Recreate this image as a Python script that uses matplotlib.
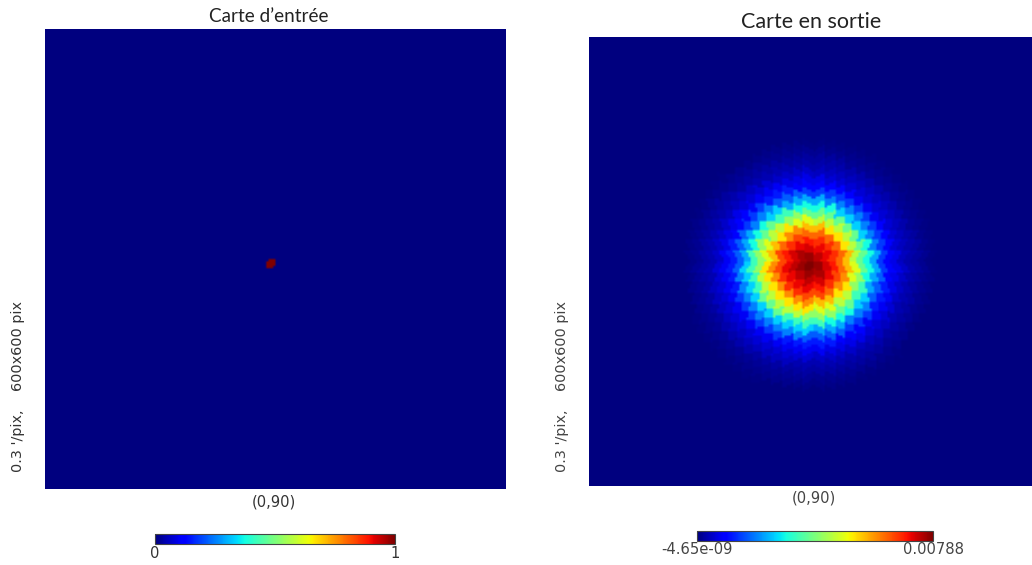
import numpy as np
import matplotlib
matplotlib.use("Agg")
import matplotlib.pyplot as plt
from matplotlib.cm import ScalarMappable
from matplotlib.colors import Normalize

W = 1032
H = 565

beam_profile = [1.0, 0.995, 0.985, 0.975, 0.96, 0.945, 0.925, 0.905, 0.885, 0.86, 0.835,
                0.80, 0.76, 0.71, 0.665, 0.62, 0.575, 0.525, 0.475, 0.425, 0.375, 0.33,
                0.29, 0.25, 0.215, 0.18, 0.15, 0.125, 0.105, 0.09, 0.075, 0.065, 0.055,
                0.045, 0.04, 0.035, 0.028, 0.023, 0.018, 0.013, 0.008, 0.005, 0.003, 0.001, 0.0]
input_min, input_max = 0, 1
output_min, output_max = -4.65e-09, 0.00788
titles = ["Carte d\u2019entr\u00e9e", "Carte en sortie"]
side_label = "0.3 '/pix,    600x600 pix"
bottom_label = "(0,90)"


def box(x0, y0, x1, y1):
    return [x0 / W, 1 - y1 / H, (x1 - x0) / W, (y1 - y0) / H]


# healpix polar cap: which cell each sample of the 600x600 map falls in
ring = 9.19
grid = np.arange(-299, 300, 3.0)
gx, gy = np.meshgrid(grid, grid)
radius = np.hypot(gx, gy) / ring
angle = np.mod(np.arctan2(gy, gx), 2 * np.pi)
quad = np.floor(angle / (np.pi / 2))
frac = angle / (np.pi / 2) - quad
cell_a = np.floor(radius * frac)
cell_b = np.floor(radius * (1 - frac))


def cell_centre(q, a, b):
    k = a + b + 1
    phi = (q + (a + 0.5) / k) * np.pi / 2
    return k * ring * np.cos(phi), k * ring * np.sin(phi)


peak_x, peak_y = cell_centre(2, 0, 0)  # lower left quadrant, first cell next to the pole
cx, cy = cell_centre(quad, cell_a, cell_b)

input_map = np.where((quad == 2) & (cell_a == 0) & (cell_b == 0), input_max, input_min)
idx = np.clip(np.round(np.hypot(cx - peak_x, cy - peak_y) / 4).astype(int), 0, len(beam_profile) - 1)
output_map = np.array(beam_profile)[idx] * output_max

fig = plt.figure(figsize=(W / 100, H / 100), dpi=100)

ax1 = fig.add_axes(box(45, 29, 505, 489))
ax2 = fig.add_axes(box(589, 37, 1038, 486))
ax1.imshow(input_map, cmap="jet", vmin=input_min, vmax=input_max, origin="lower",
           extent=(-300, 300, -300, 300), interpolation="bilinear", interpolation_stage="rgba")
ax2.imshow(output_map, cmap="jet", vmin=output_min, vmax=output_max, origin="lower",
           extent=(-300, 300, -300, 300), interpolation="bilinear", interpolation_stage="rgba")
ax1.axis("off")
ax2.axis("off")

fig.text(269 / W, 1 - 17 / H, titles[0], family="Lato", fontsize=13.6, color="#222222", ha="center", va="center")
fig.text(811 / W, 1 - 22 / H, titles[1], family="Lato", fontsize=15.5, color="#222222", ha="center", va="center")

dj = "DejaVu Sans"
fig.text(18 / W, 1 - 387 / H, side_label, family=dj, rotation=90, fontsize=10.4, color="#333333", ha="center", va="center")
fig.text(562 / W, 1 - 387 / H, side_label, family=dj, rotation=90, fontsize=10.4, color="#444444", ha="center", va="center")
fig.text(274 / W, 1 - 502 / H, bottom_label, family=dj, fontsize=10.6, color="#333333", ha="center", va="center")
fig.text(814 / W, 1 - 498 / H, bottom_label, family=dj, fontsize=10.6, color="#444444", ha="center", va="center")

cax1 = fig.add_axes(box(155, 534, 395, 544))
cb1 = fig.colorbar(ScalarMappable(Normalize(input_min, input_max), "jet"), cax=cax1,
                   orientation="horizontal", ticks=[])
cb1.outline.set_linewidth(0.8)
cb1.outline.set_edgecolor("#444444")
cax2 = fig.add_axes(box(697, 531, 933, 541))
cb2 = fig.colorbar(ScalarMappable(Normalize(output_min, output_max), "jet"), cax=cax2,
                   orientation="horizontal", ticks=[])
cb2.outline.set_linewidth(0.8)
cb2.outline.set_edgecolor("#444444")

fig.text(155 / W, 1 - 554 / H, str(input_min), family=dj, fontsize=10.6, color="#333333", ha="center", va="center")
fig.text(395 / W, 1 - 554 / H, str(input_max), family=dj, fontsize=10.6, color="#333333", ha="center", va="center")
fig.text(697 / W, 1 - 550 / H, "%.3g" % output_min, family=dj, fontsize=10.6, color="#444444", ha="center", va="center")
fig.text(933 / W, 1 - 550 / H, "%.3g" % output_max, family=dj, fontsize=10.6, color="#444444", ha="center", va="center")

fig.savefig("out.png", dpi=100)
